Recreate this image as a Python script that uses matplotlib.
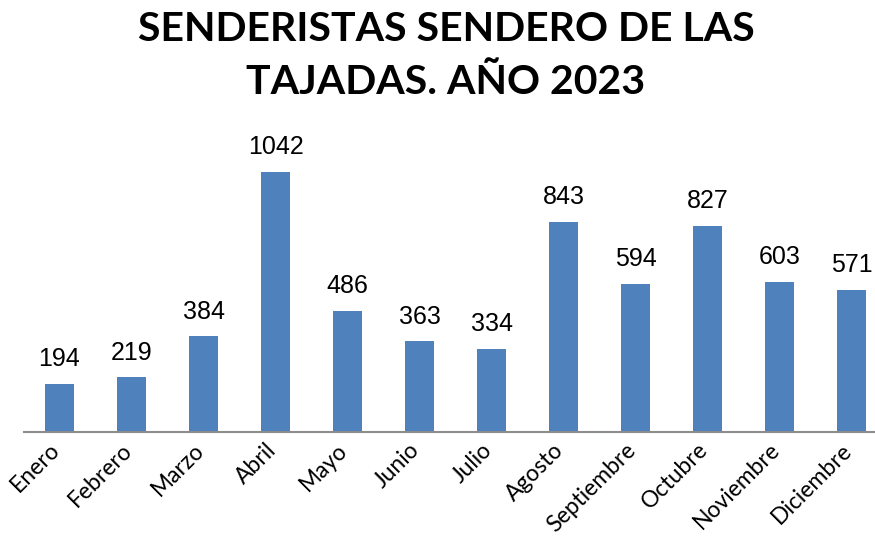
import matplotlib
matplotlib.use("Agg")
import matplotlib.pyplot as plt
import matplotlib.transforms as mtransforms

MONTHS = ["Enero", "Febrero", "Marzo", "Abril", "Mayo", "Junio", "Julio",
          "Agosto", "Septiembre", "Octubre", "Noviembre", "Diciembre"]
HIKERS = [194, 219, 384, 1042, 486, 363, 334, 843, 594, 827, 603, 571]

TITLE = "SENDERISTAS SENDERO DE LAS\nTAJADAS. AÑO 2023"
BAR_COLOUR = "#4f81bd"

W, H = 875, 539
fig = plt.figure(figsize=(W / 100, H / 100), dpi=100)

# plot area in pixels: left 23.5, 72 px per category, baseline at y=432
left, baseline, cat_w = 23.5, 432, 72
ymax = 1200
px_per_unit = 260 / 1042
height_px = ymax * px_per_unit
ax = fig.add_axes([left / W, (H - baseline) / H, len(MONTHS) * cat_w / W, height_px / H])

x = list(range(len(MONTHS)))
bars = ax.bar(x, HIKERS, width=29 / cat_w, color=BAR_COLOUR)
ax.set_xlim(-0.5, len(MONTHS) - 0.5)
ax.set_ylim(0, ymax)

for b, v in zip(bars, HIKERS):
    ax.annotate(str(v), (b.get_x() + b.get_width() / 2, v), xytext=(0, 9),
                textcoords="offset points", ha="center", va="bottom",
                fontsize=18, family="Liberation Sans")

for s in ["top", "right", "left"]:
    ax.spines[s].set_visible(False)
ax.spines["bottom"].set_color("#8c8c8c")
ax.spines["bottom"].set_linewidth(1.5)
ax.set_yticks([])
ax.set_xticks(x)
ax.set_xticklabels(MONTHS, rotation=45, ha="right", va="center",
                   rotation_mode="anchor", fontsize=16.5, family="Lato")
ax.tick_params(axis="x", length=0, pad=12)
shift = mtransforms.ScaledTranslation(-3 / 100, 2 / 100, fig.dpi_scale_trans)
for lbl in ax.get_xticklabels():
    lbl.set_transform(lbl.get_transform() + shift)

fig.text(446 / W, 1 - 11 / H, TITLE, ha="center", va="top", fontsize=29.5,
         fontweight="bold", family="Lato", linespacing=1.52)

fig.savefig("out.png", dpi=100)
